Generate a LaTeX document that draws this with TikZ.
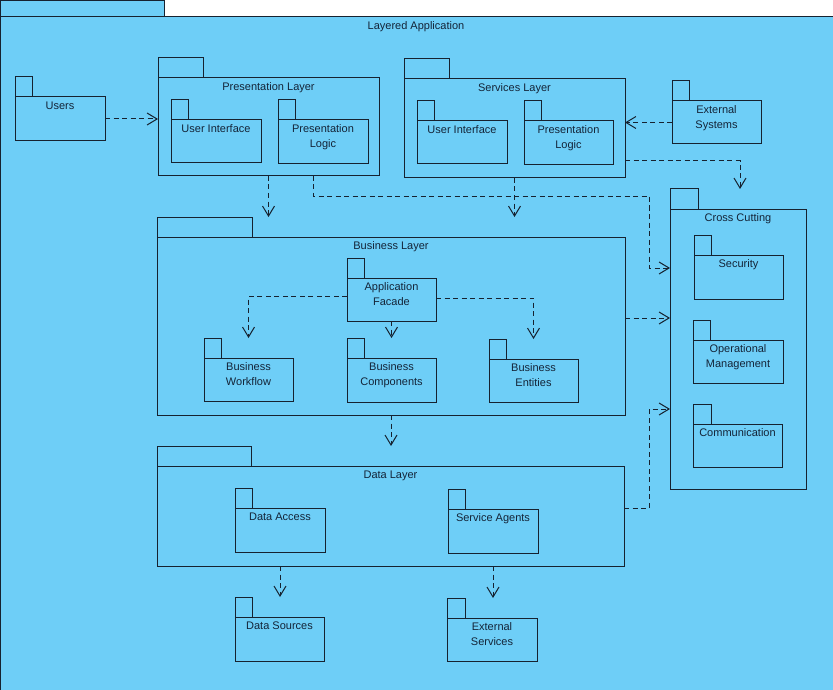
\documentclass[tikz,border=0pt]{standalone}
\usepackage{fontspec}
\setmainfont{Liberation Sans}
\usetikzlibrary{arrows.meta,calc}
\definecolor{bg}{RGB}{110,206,247}
\definecolor{lc}{RGB}{22,34,48}
\definecolor{tc}{RGB}{20,36,56}
\tikzset{
  pkg/.style={draw=lc, fill=bg, line width=1pt, inner sep=0pt, outer sep=0pt},
  plabel/.style={font=\fontsize{11}{15}\selectfont, text=tc, inner sep=0pt, align=center, anchor=north},
  dep/.style={draw=lc, line width=1pt, dash pattern=on 5pt off 3.5pt,
    -{Straight Barb[length=10pt,width=12pt]}}
}
\newcommand\pkgbox[7]{%
  \node[pkg, anchor=north west, minimum width={#4-#2}, minimum height={#5-#3}] (#1) at (#2,#3) {};
  \node[pkg, anchor=south west, minimum width=#6, minimum height=20] (#1tab) at (#1.north west) {};
  \node[plabel] (#1lab) at ($(#1.north)+(0,2)$) {\strut #7};
}
\begin{document}
\begin{tikzpicture}[x=1pt,y=-1pt]
\useasboundingbox (0,0) rectangle (833,690);
\fill[white] (0,0) rectangle (833,690);
% outer package
\path[pkg] (0.5,0.5) rectangle (164,17);
\path[pkg] (0.5,17) rectangle (845,700);
\node[font=\fontsize{11}{15}\selectfont, text=tc, inner sep=0pt, anchor=base] (title) at (416,30) {Layered Application};

\pkgbox{users}{15}{97}{105}{141}{17}{Users}
\pkgbox{pres}{158}{78}{379}{176}{45}{Presentation Layer}
\pkgbox{pui}{171}{120}{261}{163}{17}{User Interface}
\pkgbox{ppl}{278}{120}{368}{164}{17}{Presentation\\Logic}
\pkgbox{svc}{404}{79}{625}{178}{45}{Services Layer}
\pkgbox{sui}{417}{121}{507}{164}{17}{User Interface}
\pkgbox{spl}{524}{121}{613}{165}{17}{Presentation\\Logic}
\pkgbox{ext}{672}{101}{761}{144}{17}{External\\Systems}
\pkgbox{biz}{157}{237}{625}{415}{95}{Business Layer}
\pkgbox{fac}{347}{278}{436}{321}{17}{Application\\Facade}
\pkgbox{wf}{204}{358}{293}{401}{17}{Business\\Workflow}
\pkgbox{bc}{347}{358}{436}{402}{17}{Business\\Components}
\pkgbox{be}{489}{359}{578}{402}{17}{Business\\Entities}
\pkgbox{cc}{670}{209}{806}{489}{28}{Cross Cutting}
\pkgbox{sec}{694}{255}{783}{299}{17}{Security}
\pkgbox{op}{693}{340}{783}{383}{17}{Operational\\Management}
\pkgbox{com}{693}{424}{782}{467}{18}{Communication}
\pkgbox{data}{157}{466}{624}{566}{94}{Data Layer}
\pkgbox{da}{235}{508}{325}{552}{17}{Data Access}
\pkgbox{sa}{448}{509}{538}{553}{17}{Service Agents}
\pkgbox{ds}{235}{617}{324}{661}{17}{Data Sources}
\pkgbox{es}{447}{618}{537}{661}{18}{External\\Services}

% connectors
\coordinate (ccin) at (740,189);
\draw[dep] (users.east) -- (users.east -| pres.west);
\draw[dep] (ext.west) -- (ext.west -| svc.east);
\draw[dep] ($(svc.south east)+(0,-17)$) -| (ccin);
\draw[dep] (pres.south) -- (pres.south |- biztab.north);
\draw[dep] (svc.south) -- (svc.south |- biztab.north);
\draw[dep] ($(pres.south west)+(155,0)$) -- ++(0,20) -| ($(cc.north west)+(-21,59)$) -- ($(cc.north west)+(0,59)$);
\draw[dep] ($(biz.north east)+(0,81)$) -- ($(cc.north west)+(0,109)$);
\draw[dep] ($(data.north east)+(0,42)$) -| ($(cc.north west)+(-21,200)$) -- ($(cc.north west)+(0,200)$);
\draw[dep] (biz.south) -- (biz.south |- datatab.north);
\draw[dep] ($(fac.north west)+(0,18)$) -| (wf.north |- wftab.north);
\draw[dep] (fac.south) -- (fac.south |- bctab.north);
\draw[dep] ($(fac.north east)+(0,20)$) -| (be.north |- betab.north);
\draw[dep] (da.south |- data.south) -- (da.south |- dstab.north);
\draw[dep] (sa.south |- data.south) -- (sa.south |- estab.north);
\end{tikzpicture}
\end{document}
